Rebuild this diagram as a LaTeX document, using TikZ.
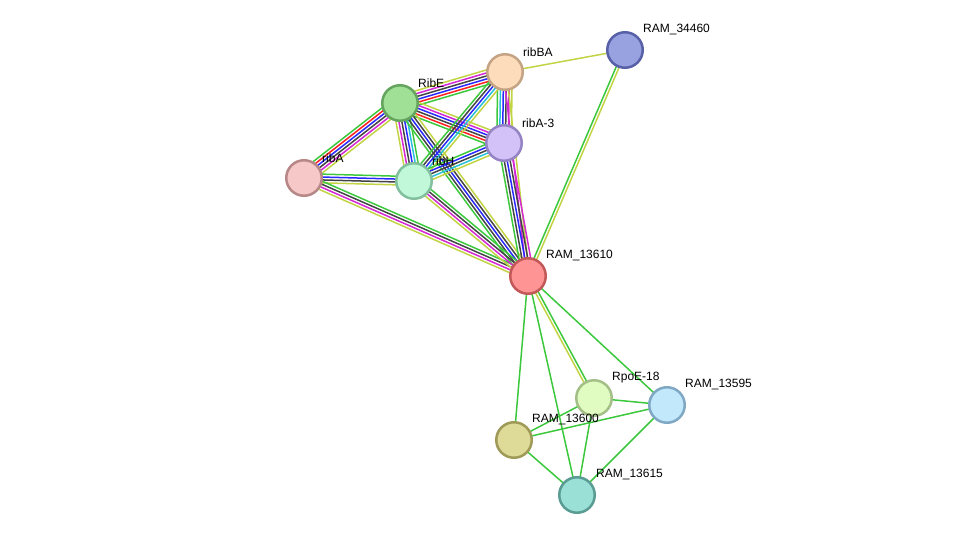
\documentclass[tikz,border=0pt]{standalone}
\usepackage{fontspec}
\setmainfont{Liberation Sans}
\usetikzlibrary{calc,backgrounds}
\definecolor{eG}{HTML}{3CC83C}
\definecolor{eR}{HTML}{FF2020}
\definecolor{eB}{HTML}{2828FF}
\definecolor{eK}{HTML}{444444}
\definecolor{eM}{HTML}{D428D4}
\definecolor{eC}{HTML}{28C0D8}
\definecolor{eY}{HTML}{C2D444}
\newcommand\medge[3]{%
  \foreach \cc [count=\ii] in {#3} {\xdef\nlines{\ii}}%
  \foreach \cc [count=\ii] in {#3} {%
    \pgfmathsetmacro\off{(\ii-(\nlines+1)/2)*2.9}%
    \draw[eline, color=\cc] ($(#1.center)!\off pt!90:(#2.center)$) -- ($(#2.center)!\off pt!-90:(#1.center)$);
  }}
\tikzset{
  prot/.style={circle, minimum size=35.5pt, inner sep=0pt, line width=2.5pt},
  eline/.style={line width=1.5pt},
  lbl/.style={anchor=west, font=\fontsize{12}{14}\selectfont, inner sep=0pt, text=black}
}
\begin{document}
\begin{tikzpicture}[x=1pt,y=-1pt]
\useasboundingbox (0,0) rectangle (975,540);
\node[prot, fill={rgb,255:red,152;green,162;blue,224}, draw={rgb,255:red,88;green,96;blue,168}] (n34460) at (625,50) {};
\node[prot, fill={rgb,255:red,253;green,220;blue,188}, draw={rgb,255:red,196;green,164;blue,132}] (ribBA) at (505,72) {};
\node[prot, fill={rgb,255:red,160;green,224;blue,150}, draw={rgb,255:red,100;green,164;blue,94}] (RibE) at (400,103) {};
\node[prot, fill={rgb,255:red,210;green,194;blue,248}, draw={rgb,255:red,148;green,132;blue,196}] (ribA3) at (504,143) {};
\node[prot, fill={rgb,255:red,246;green,200;blue,200}, draw={rgb,255:red,184;green,136;blue,136}] (ribA) at (304,178) {};
\node[prot, fill={rgb,255:red,194;green,248;blue,218}, draw={rgb,255:red,130;green,192;blue,158}] (ribH) at (414,181) {};
\node[prot, fill={rgb,255:red,255;green,148;blue,148}, draw={rgb,255:red,194;green,88;blue,88}] (n13610) at (528,276) {};
\node[prot, fill={rgb,255:red,224;green,252;blue,192}, draw={rgb,255:red,164;green,192;blue,136}] (RpoE) at (594,398) {};
\node[prot, fill={rgb,255:red,194;green,232;blue,252}, draw={rgb,255:red,128;green,168;blue,196}] (n13595) at (667,405) {};
\node[prot, fill={rgb,255:red,222;green,218;blue,152}, draw={rgb,255:red,160;green,154;blue,88}] (n13600) at (514,440) {};
\node[prot, fill={rgb,255:red,154;green,224;blue,214}, draw={rgb,255:red,90;green,156;blue,148}] (n13615) at (577,495) {};
\begin{pgfonlayer}{background}
\medge{ribBA}{n34460}{eY}
\medge{n34460}{n13610}{eG,eY}
\medge{RibE}{ribBA}{eG,eR,eB,eK,eM,eY}
\medge{ribA}{RibE}{eY,eM,eK,eB,eR,eG}
\medge{RibE}{ribA3}{eG,eR,eK,eB,eM,eY}
\medge{RibE}{ribH}{eY,eM,eK,eB,eC,eG}
\medge{RibE}{n13610}{eG,eK,eB,eK,eY}
\medge{ribBA}{ribA3}{eG,eC,eB,eK,eM,eY}
\medge{ribBA}{ribH}{eG,eK,eB,eC,eY}
\medge{ribBA}{n13610}{eM,eY}
\medge{ribA3}{ribH}{eG,eB,eK,eC,eY}
\medge{ribA3}{n13610}{eG,eK,eB,eK,eM}
\medge{ribA}{ribH}{eY,eK,eB,eG}
\medge{ribA}{n13610}{eY,eM,eK,eG}
\medge{ribH}{n13610}{eY,eM,eK,eG}
\medge{n13610}{RpoE}{eY,eG}
\medge{n13610}{n13595}{eG}
\medge{n13610}{n13600}{eG}
\medge{n13610}{n13615}{eG}
\medge{RpoE}{n13595}{eG}
\medge{RpoE}{n13600}{eG}
\medge{RpoE}{n13615}{eG}
\medge{n13595}{n13600}{eG}
\medge{n13595}{n13615}{eG}
\medge{n13600}{n13615}{eG}
\end{pgfonlayer}
\node[lbl] (l34460) at ($(n34460)+(18,-20)$) {RAM\_34460};
\node[lbl] (lribBA) at ($(ribBA)+(18,-20)$) {ribBA};
\node[lbl] (lRibE) at ($(RibE)+(18,-20)$) {RibE};
\node[lbl] (lribA3) at ($(ribA3)+(18,-20)$) {ribA-3};
\node[lbl] (lribA) at ($(ribA)+(18,-20)$) {ribA};
\node[lbl] (lribH) at ($(ribH)+(18,-20)$) {ribH};
\node[lbl] (l13610) at ($(n13610)+(18,-20)$) {RAM\_13610};
\node[lbl] (lRpoE) at ($(RpoE)+(18,-20)$) {RpoE-18};
\node[lbl] (l13595) at ($(n13595)+(18,-20)$) {RAM\_13595};
\node[lbl] (l13600) at ($(n13600)+(18,-20)$) {RAM\_13600};
\node[lbl] (l13615) at ($(n13615)+(19,-20)$) {RAM\_13615};
\end{tikzpicture}
\end{document}
